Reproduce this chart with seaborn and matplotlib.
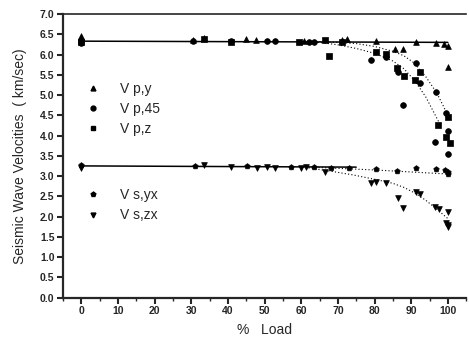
import matplotlib
matplotlib.use("Agg")
import matplotlib.pyplot as plt
from matplotlib.ticker import MultipleLocator
import pandas as pd
import seaborn as sns

vpy_x = [0, 0, 30.4, 33.6, 45, 47.6, 60.7, 71, 72.6, 80.5, 85.5, 87.8, 91.3, 96.7, 99, 100, 100]
vpy_y = [6.45, 6.40, 6.36, 6.40, 6.38, 6.35, 6.33, 6.36, 6.38, 6.33, 6.13, 6.13, 6.30, 6.28, 6.25, 5.70, 6.20]

vp45_x = [0, 0, 30.4, 40.8, 50.8, 52.8, 62, 63.4, 79, 83, 86.5, 87.8, 91.3, 92.4, 96.7, 96.5, 99.5, 100, 100]
vp45_y = [6.35, 6.28, 6.33, 6.33, 6.34, 6.34, 6.30, 6.32, 5.86, 5.94, 5.57, 4.75, 5.79, 5.29, 5.08, 3.85, 4.56, 3.54, 4.11]

vpz_x = [0, 33.6, 40.8, 59.3, 66.6, 67.7, 71, 80.5, 83, 86, 88, 92.4, 91, 97.3, 100, 99.4, 100.5]
vpz_y = [6.32, 6.38, 6.30, 6.30, 6.35, 5.96, 6.30, 6.07, 6.02, 5.66, 5.47, 5.57, 5.37, 4.26, 4.46, 3.97, 3.81]

vsyx_x = [0, 31, 45.3, 57.2, 63.4, 68, 73, 80.5, 86, 91.3, 96.7, 99.2, 100, 100]
vsyx_y = [3.28, 3.25, 3.24, 3.22, 3.22, 3.20, 3.20, 3.18, 3.12, 3.20, 3.18, 3.15, 3.05, 3.10]

vszx_x = [0, 33.6, 40.8, 48, 50.7, 52.8, 59.9, 61.2, 66.6, 79, 80.5, 83.2, 86.5, 87.8,
          91.4, 92.3, 96.4, 97.5, 99.5, 100, 100, 100]
vszx_y = [3.20, 3.27, 3.22, 3.20, 3.22, 3.20, 3.20, 3.22, 3.10, 2.82, 2.86, 2.82, 2.45, 2.20,
          2.61, 2.56, 2.23, 2.18, 1.85, 1.79, 2.10, 1.74]

# Fitted curves
vp_line_x = [0, 100]
vp_line_y = [6.33, 6.30]
fit_a_x = [60, 65, 70, 75, 80, 85, 88, 91, 94, 97.5]
fit_a_y = [6.32, 6.30, 6.24, 6.15, 6.03, 5.84, 5.65, 5.35, 4.95, 4.34]
fit_b_x = [65, 70, 75, 80, 85, 88, 91, 94, 97, 100]
fit_b_y = [6.32, 6.30, 6.27, 6.20, 6.08, 5.97, 5.78, 5.45, 5.05, 4.50]
vs_line_x = [0, 75]
vs_line_y = [3.25, 3.22]
fit_yx_x = [62, 70, 80, 90, 100]
fit_yx_y = [3.22, 3.19, 3.15, 3.10, 3.05]
fit_zx_x = [62, 68, 74, 80, 85, 88, 91, 94, 97, 100]
fit_zx_y = [3.20, 3.12, 3.03, 2.92, 2.82, 2.72, 2.58, 2.40, 2.18, 1.95]

series = [("V p,y", vpy_x, vpy_y, "^"),
          ("V p,45", vp45_x, vp45_y, "o"),
          ("V p,z", vpz_x, vpz_y, "s"),
          ("V s,yx", vsyx_x, vsyx_y, "p"),
          ("V s,zx", vszx_x, vszx_y, "v")]

sns.set_style("ticks")
plt.rcParams["font.family"] = ["Liberation Sans", "DejaVu Sans"]

fig = plt.figure(figsize=(4.69, 3.42), dpi=100)
ax = fig.add_axes([0.134, 0.13, 0.86, 0.829])

# fit lines
sns.lineplot(x=vp_line_x, y=vp_line_y, ax=ax, color="black", lw=1.1)
sns.lineplot(x=vs_line_x, y=vs_line_y, ax=ax, color="black", lw=1.1)
for fx, fy in [(fit_a_x, fit_a_y), (fit_b_x, fit_b_y), (fit_yx_x, fit_yx_y), (fit_zx_x, fit_zx_y)]:
    sns.lineplot(x=fx, y=fy, ax=ax, color="black", lw=0.8, linestyle=(0, (1, 2)))

handles = []
for name, xs, ys, mk in series:
    df = pd.DataFrame({"load": xs, "v": ys})
    sns.scatterplot(data=df, x="load", y="v", ax=ax, marker=mk, color="black",
                    s=17, edgecolor="black", linewidth=0.5, zorder=3)
    handles.append(plt.Line2D([], [], marker=mk, color="black", linestyle="none",
                              markersize=3.5, label=name))

leg1 = ax.legend(handles=handles[:3], loc="upper left", bbox_to_anchor=(0.015, 0.805),
                 frameon=False, fontsize=10, handletextpad=1.2, labelspacing=0.45,
                 handlelength=1.6)
ax.add_artist(leg1)
ax.legend(handles=handles[3:], loc="upper left", bbox_to_anchor=(0.015, 0.43),
          frameon=False, fontsize=10, handletextpad=1.2, labelspacing=0.45,
          handlelength=1.6)

ax.set_xlim(-5, 105)
ax.set_ylim(0, 7)
ax.xaxis.set_major_locator(MultipleLocator(10))
ax.xaxis.set_minor_locator(MultipleLocator(5))
ax.yaxis.set_major_locator(MultipleLocator(0.5))
ax.yaxis.set_major_formatter(matplotlib.ticker.FormatStrFormatter("%.1f"))

ax.tick_params(which="major", direction="out", length=4, width=1.5, labelsize=7.5, pad=2)
ax.tick_params(which="minor", direction="out", length=2, width=1)
for lab in ax.get_xticklabels() + ax.get_yticklabels():
    lab.set_fontweight("bold")

ax.spines["right"].set_visible(False)
ax.spines["left"].set_linewidth(1.6)
ax.spines["bottom"].set_linewidth(1.6)
ax.spines["top"].set_linewidth(1.2)

ax.set_xlabel("%   Load", fontsize=10, labelpad=5)
ax.set_ylabel("Seismic Wave Velocities  ( km/sec)", fontsize=10, labelpad=9)

fig.savefig("out.png", dpi=100)
